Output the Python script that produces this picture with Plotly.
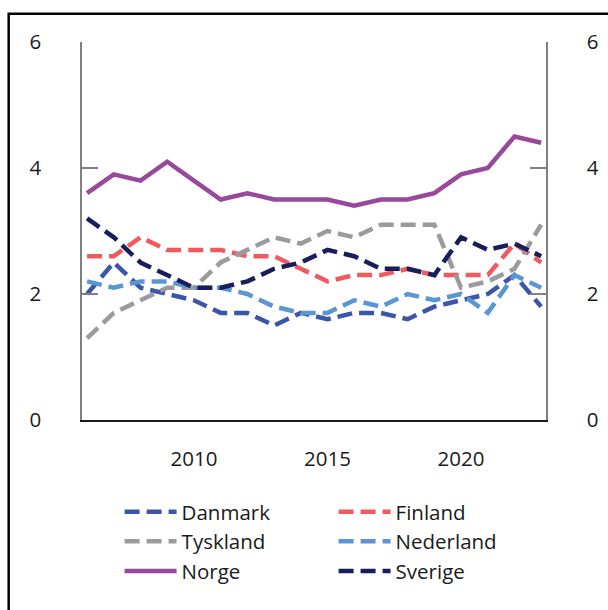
import plotly.graph_objects as go

years = list(range(2006, 2024))
danmark   = [2.0, 2.5, 2.1, 2.0, 1.9, 1.7, 1.7, 1.5, 1.7, 1.6, 1.7, 1.7, 1.6, 1.8, 1.9, 2.0, 2.3, 1.8]
finland   = [2.6, 2.6, 2.9, 2.7, 2.7, 2.7, 2.6, 2.6, 2.4, 2.2, 2.3, 2.3, 2.4, 2.3, 2.3, 2.3, 2.8, 2.5]
tyskland  = [1.3, 1.7, 1.9, 2.1, 2.1, 2.5, 2.7, 2.9, 2.8, 3.0, 2.9, 3.1, 3.1, 3.1, 2.1, 2.2, 2.4, 3.1]
nederland = [2.2, 2.1, 2.2, 2.2, 2.1, 2.1, 2.0, 1.8, 1.7, 1.7, 1.9, 1.8, 2.0, 1.9, 2.0, 1.7, 2.3, 2.1]
norge     = [3.6, 3.9, 3.8, 4.1, 3.8, 3.5, 3.6, 3.5, 3.5, 3.5, 3.4, 3.5, 3.5, 3.6, 3.9, 4.0, 4.5, 4.4]
sverige   = [3.2, 2.9, 2.5, 2.3, 2.1, 2.1, 2.2, 2.4, 2.5, 2.7, 2.6, 2.4, 2.4, 2.3, 2.9, 2.7, 2.8, 2.6]

y_ticks = [0, 2, 4, 6]
x_ticks = [2010, 2015, 2020]

series = [
    ("Danmark", danmark, "#3b56a8", "dash"),
    ("Finland", finland, "#f05a5e", "dash"),
    ("Tyskland", tyskland, "#9b9b9d", "dash"),
    ("Nederland", nederland, "#5b96d4", "dash"),
    ("Norge", norge, "#97499c", "solid"),
    ("Sverige", sverige, "#1a1d5c", "dash"),
]

fig = go.Figure()
for name, vals, color, dash in series:
    fig.add_trace(go.Scatter(
        x=years, y=vals, name=name, mode="lines",
        line=dict(color=color, width=4.5, dash=("15px,7px" if dash == "dash" else "solid")),
    ))
# invisible trace for right axis
fig.add_trace(go.Scatter(x=[years[0]], y=[0], yaxis="y2", showlegend=False,
                         mode="markers", marker=dict(opacity=0), hoverinfo="skip"))

font = dict(family="Open Sans", size=20.5, color="#1a1a1a")
fig.update_layout(
    width=608, height=610,
    margin=dict(l=82, r=62, t=42, b=190, autoexpand=False),
    paper_bgcolor="white", plot_bgcolor="white",
    font=font,
    showlegend=True,
    xaxis=dict(range=[2005.81, 2023.18], tickvals=x_ticks, showgrid=False, zeroline=False,
               showline=True, linecolor="#1a1a1a", linewidth=1.5, ticks="", automargin=False,
               ticklabelstandoff=20, tickfont=font),
    yaxis=dict(range=[0, 6], tickvals=y_ticks, showgrid=False, zeroline=False, automargin=False,
               showline=True, linecolor="#808080", linewidth=1.5,
               ticks="inside", ticklen=16, tickcolor="#808080", tickwidth=1.5,
               ticklabelstandoff=35, tickfont=font),
    yaxis2=dict(range=[0, 6], tickvals=y_ticks, overlaying="y", side="right", automargin=False,
                showgrid=False, zeroline=False,
                showline=True, linecolor="#808080", linewidth=1.5,
                ticks="inside", ticklen=16, tickcolor="#808080", tickwidth=1.5,
                ticklabelstandoff=35, tickfont=font),
    legend=dict(orientation="h", x=0.081, xanchor="left", y=-0.19, yanchor="top",
                entrywidth=147, font=dict(family="Open Sans", size=20.5, color="#1a1a1a"),
                tracegroupgap=0, itemwidth=52, bgcolor="rgba(0,0,0,0)"),
    shapes=[dict(type="rect", xref="paper", yref="paper", x0=-0.158, x1=1.3, y0=-1.0, y1=1.075,
                 line=dict(color="black", width=2.5), fillcolor="rgba(0,0,0,0)", layer="below")],
)

fig.write_html("out.html", config={"displayModeBar": False},
               post_script="document.body.style.margin='0';document.body.style.overflow='hidden';")
